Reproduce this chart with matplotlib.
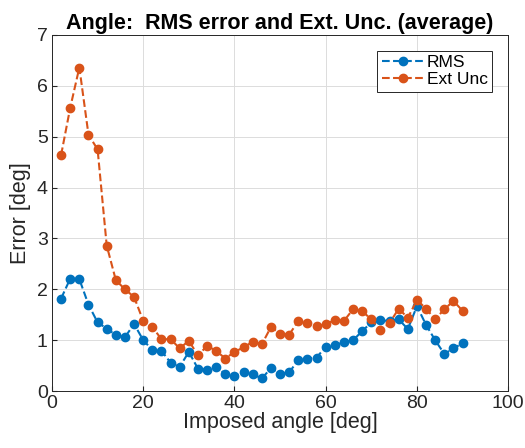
import matplotlib
matplotlib.use("Agg")
import matplotlib.pyplot as plt

angles = list(range(2, 92, 2))
rms = [1.82, 2.21, 2.20, 1.70, 1.35, 1.23, 1.10, 1.06, 1.32, 1.00,
       0.81, 0.79, 0.56, 0.48, 0.77, 0.44, 0.42, 0.48, 0.33, 0.29,
       0.38, 0.33, 0.25, 0.45, 0.33, 0.37, 0.61, 0.64, 0.66, 0.87,
       0.91, 0.96, 1.00, 1.18, 1.35, 1.39, 1.38, 1.41, 1.22, 1.67,
       1.30, 1.00, 0.73, 0.84, 0.94]
ext_unc = [4.64, 5.57, 6.36, 5.04, 4.75, 2.86, 2.18, 2.00, 1.85, 1.38,
           1.26, 1.02, 1.02, 0.84, 0.99, 0.70, 0.89, 0.79, 0.64, 0.77,
           0.86, 0.97, 0.92, 1.26, 1.13, 1.11, 1.38, 1.33, 1.28, 1.31,
           1.40, 1.38, 1.61, 1.57, 1.41, 1.20, 1.34, 1.62, 1.44, 1.79,
           1.62, 1.41, 1.61, 1.77, 1.58]

plt.rcParams['font.family'] = ['Liberation Sans', 'DejaVu Sans']

fig = plt.figure(figsize=(5.25, 4.48), dpi=100)
ax = fig.add_axes([0.099, 0.127, 0.869, 0.795])

ax.plot(angles, rms, '--o', color='#0072BD', lw=1.5, ms=6, label='RMS')
ax.plot(angles, ext_unc, '--o', color='#D95319', lw=1.5, ms=6, label='Ext Unc')

ax.set_xlim(0, 100)
ax.set_ylim(0, 7)
ax.set_xticks(range(0, 101, 20))
ax.set_yticks(range(0, 8, 1))
ax.grid(True, color='#dcdcdc', lw=0.7)
ax.set_axisbelow(True)
ax.tick_params(direction='in', labelsize=14, colors='#262626', top=False, right=False, pad=3)
for s in ax.spines.values():
    s.set_color('#262626')
    s.set_linewidth(0.7)

ax.set_xlabel('Imposed angle [deg]', fontsize=15.5, color='#262626', labelpad=0)
ax.set_ylabel('Error [deg]', fontsize=15.5, color='#262626', labelpad=4)
ax.set_title('Angle:  RMS error and Ext. Unc. (average)', fontsize=15.5, fontweight='bold', pad=4)

leg = ax.legend(loc='upper right', bbox_to_anchor=(0.965, 0.955), fontsize=12.5,
                fancybox=False, framealpha=1, edgecolor='#262626',
                borderpad=0.25, labelspacing=0.1, handlelength=2.4, handletextpad=0.2,
                borderaxespad=0)
leg.get_frame().set_linewidth(0.7)

fig.savefig('out.png', dpi=100)
